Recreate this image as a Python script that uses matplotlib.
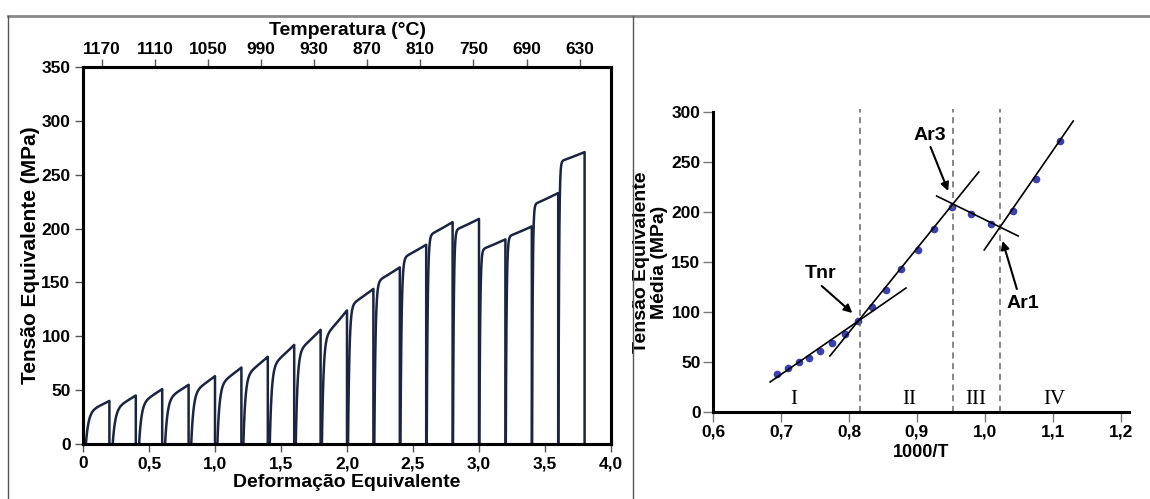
import numpy as np
import matplotlib
matplotlib.use('Agg')
import matplotlib.pyplot as plt
from matplotlib.lines import Line2D

# left panel: multi-pass torsion curve, one entry per pass
pass_start = [0.022, 0.225, 0.425, 0.622, 0.82, 1.018, 1.215, 1.415, 1.612, 1.81,
              2.008, 2.207, 2.405, 2.604, 2.803, 3.003, 3.203, 3.402, 3.602]
pass_end = [0.2, 0.4, 0.6, 0.8, 1.0, 1.2, 1.4, 1.6, 1.8, 2.0,
            2.2, 2.4, 2.6, 2.8, 3.0, 3.2, 3.4, 3.6, 3.8]
pass_knee = [30, 33, 38, 42, 48, 55, 63, 72, 85, 98,
             128, 150, 172, 193, 198, 180, 192, 222, 262]
pass_peak = [40, 45, 51, 55, 63, 71, 81, 92, 106, 124,
             144, 164, 185, 206, 209, 190, 202, 233, 271]
pass_rise = [0.02, 0.02, 0.018, 0.018, 0.017, 0.016, 0.015, 0.014, 0.013, 0.012,
             0.01, 0.009, 0.008, 0.007, 0.006, 0.006, 0.006, 0.005, 0.005]

temp_ticks = [1170, 1110, 1050, 990, 930, 870, 810, 750, 690, 630]

# right panel: mean stress vs 1000/T
inv_t = [0.694, 0.710, 0.726, 0.7415, 0.758, 0.775, 0.794, 0.814, 0.834, 0.855,
         0.877, 0.901, 0.925, 0.952, 0.980, 1.009, 1.041, 1.075, 1.110]
mean_stress = [38, 44, 50, 54, 61, 69, 78, 91, 105, 122,
               143, 162, 183, 205, 198, 188, 201, 233, 271]
fit_lines = [((0.684, 0.884), (30, 124)),
             ((0.772, 0.991), (56, 240)),
             ((0.929, 1.049), (216, 176)),
             ((0.999, 1.130), (162, 291))]
region_bounds = [0.816, 0.9526, 1.0227]
region_names = ['I', 'II', 'III', 'IV']
region_x = [0.7185, 0.889, 0.987, 1.102]

plt.rcParams['font.family'] = ['Liberation Sans', 'DejaVu Sans']

fig = plt.figure(figsize=(11.5, 4.99), dpi=100)

# outer frame lines
fig.add_artist(Line2D([8 / 1150, 1], [1 - 16 / 499] * 2, color='#8a8a8a', lw=2))
fig.add_artist(Line2D([8 / 1150] * 2, [0, 1 - 16 / 499], color='#555555', lw=1))
fig.add_artist(Line2D([633 / 1150] * 2, [0, 1 - 16 / 499], color='#555555', lw=1))

# ---- left panel
ax = fig.add_axes([83 / 1150, 1 - 444 / 499, 528 / 1150, 377 / 499])
for k in range(len(pass_peak)):
    e = np.linspace(0, pass_end[k] - pass_start[k], 80)
    L = e[-1]
    base = pass_knee[k] * (1 - np.exp(-e / pass_rise[k]))
    s = base + (pass_peak[k] - base[-1]) * (e / L) ** 1.1
    x = np.concatenate([[pass_start[k]], pass_start[k] + e, [pass_end[k]]])
    y = np.concatenate([[0], s, [0]])
    ax.plot(x, y, color='#1b2440', lw=1.8, solid_joinstyle='round')

ax.set_xlim(0, 4)
ax.set_ylim(0, 350)
ax.set_xticks(np.arange(0, 4.01, 0.5))
ax.set_xticklabels(['0'] + [f'{v:.1f}'.replace('.', ',') for v in np.arange(0.5, 4.01, 0.5)])
ax.set_yticks(range(0, 351, 50))
for sp in ax.spines.values():
    sp.set_linewidth(2.2)
ax.tick_params(direction='out', length=6, width=1, color='#555555', labelsize=12.5, pad=3)
for lab in ax.get_xticklabels() + ax.get_yticklabels():
    lab.set_fontweight('bold')
ax.set_xlabel('Deformação Equivalente', fontweight='bold', fontsize=14, labelpad=2)
ax.set_ylabel('Tensão Equivalente (MPa)', fontweight='bold', fontsize=15, labelpad=1)

top = ax.twiny()
# temperature scale: 1170 at strain 0.144, 60 degC per 0.402 strain
t0 = 1170 + 0.144 / 0.402 * 60
t1 = t0 - 4 / 0.402 * 60
top.set_xlim(t0, t1)
top.set_xticks(temp_ticks)
top.tick_params(direction='out', length=6, width=1, color='#555555', labelsize=12.5, pad=1)
for lab in top.get_xticklabels():
    lab.set_fontweight('bold')
top.set_xlabel('Temperatura (°C)', fontweight='bold', fontsize=14, labelpad=5)
for sp in top.spines.values():
    sp.set_linewidth(2.2)

# ---- right panel
ax2 = fig.add_axes([713 / 1150, 1 - 412 / 499, 416 / 1150, 300 / 499])
for bx in region_bounds:
    ax2.plot([bx, bx], [0, 303], ls=(0, (4, 3)), color='#666666', lw=1.1, clip_on=False)
for (xs, ys) in fit_lines:
    ax2.plot(xs, ys, color='black', lw=1.2, clip_on=False)
ax2.plot(inv_t, mean_stress, 'o', color='#3b3fb0', ms=4.5, zorder=1)
for name, rx in zip(region_names, region_x):
    ax2.text(rx, 13, name, family='Liberation Serif', fontsize=15, ha='center', va='center')

arrow = dict(arrowstyle='-|>', color='black', lw=1.5, mutation_scale=12, shrinkA=0, shrinkB=0)
ax2.annotate('', xy=(0.805, 99), xytext=(0.760, 126), arrowprops=arrow)
ax2.text(0.758, 138, 'Tnr', fontsize=14, fontweight='bold', ha='center', va='center')
ax2.annotate('', xy=(0.946, 221), xytext=(0.920, 265), arrowprops=arrow)
ax2.text(0.919, 276, 'Ar3', fontsize=14, fontweight='bold', ha='center', va='center')
ax2.annotate('', xy=(1.026, 171), xytext=(1.047, 123), arrowprops=arrow)
ax2.text(1.0565, 108, 'Ar1', fontsize=14, fontweight='bold', ha='center', va='center')

ax2.set_xlim(0.6, 1.212)
ax2.set_ylim(0, 300)
ax2.set_xticks(np.arange(0.6, 1.21, 0.1))
ax2.set_xticklabels([f'{v:.1f}'.replace('.', ',') for v in np.arange(0.6, 1.21, 0.1)])
ax2.set_yticks(range(0, 301, 50))
ax2.spines['top'].set_visible(False)
ax2.spines['right'].set_visible(False)
ax2.spines['left'].set_linewidth(2.2)
ax2.spines['bottom'].set_linewidth(2.2)
ax2.tick_params(direction='out', length=7, width=1, color='#777777', labelsize=12.5, pad=2)
for lab in ax2.get_xticklabels() + ax2.get_yticklabels():
    lab.set_fontweight('bold')
ax2.set_xlabel('1000/T', fontweight='bold', fontsize=13, labelpad=3)
ax2.set_ylabel('Tensão Equivalente\nMédia (MPa)', fontweight='bold', fontsize=14,
               linespacing=1.1)
ax2.yaxis.set_label_coords(-0.108, 0.5)

fig.savefig('out.png', dpi=100)
